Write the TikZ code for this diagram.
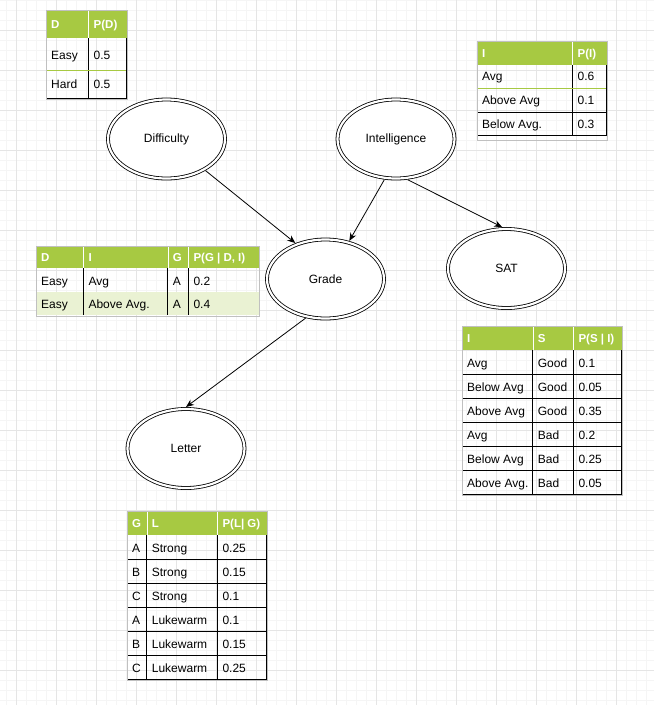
\documentclass[tikz,border=0pt]{standalone}
\usepackage{fontspec}
\setmainfont{Liberation Sans}
\usetikzlibrary{arrows.meta, shapes.geometric}

\definecolor{hgreen}{HTML}{A7C942}
\definecolor{rowgreen}{HTML}{EAF2D3}
\definecolor{framegray}{HTML}{C0C0C0}
\definecolor{gridmajor}{HTML}{E5E5E5}
\definecolor{gridminor}{HTML}{F5F5F5}

\begin{document}
\begin{tikzpicture}[
		x=1pt, y=-1pt,
		font=\fontsize{12}{14}\selectfont,
		rv/.style={draw, ellipse, double, double distance=2.2pt, line width=0.8pt, fill=white, minimum width=117pt, minimum height=79pt, inner sep=0pt, outer sep=2pt},
		arrow/.style={-{Stealth[length=8pt, width=6.5pt]}, line width=0.8pt},
		hdtext/.style={anchor=west, inner sep=0pt, text=white, font=\bfseries\fontsize{11.5}{13}\selectfont, text height=8pt, text depth=0pt},
		cell/.style={anchor=west, inner sep=0pt, text height=8pt, text depth=0pt},
		tabframe/.style={draw=framegray, line width=1pt},
		cellrule/.style={draw=black, line width=0.9pt},
		minorline/.style={draw=gridminor, line width=0.8pt},
		majorline/.style={draw=gridmajor, line width=0.9pt}
		]

		\useasboundingbox (0,0) rectangle (654,705);

		% Background grid
		\foreach \x in {6,16,...,654} \draw[minorline] (\x,0) -- (\x,705);
		\foreach \y in {0,10,...,700} \draw[minorline] (0,\y) -- (654,\y);
		\foreach \x in {16,56,...,654} \draw[majorline] (\x,0) -- (\x,705);
		\foreach \y in {30,70,...,700} \draw[majorline] (0,\y) -- (654,\y);

		% Table P(D)
		\fill[hgreen] (46,10) rectangle (127,38);
		\draw[white] (88.5,10) -- (88.5,38);
		\node[hdtext] (d-h1) at (51,24) {D};
		\node[hdtext] (d-h2) at (93.5,24) {P(D)};
		\draw[cellrule] (46,38) -- (46,98) -- (126,98) -- (126,38) (88.5,38) -- (88.5,98);
		\draw[hgreen, line width=0.9pt] (46,70.5) -- (126,70.5);
		\foreach \a/\b/\yy [count=\r] in {Easy/0.5/55.3, Hard/0.5/84.8} {
			\node[cell] (d-\r-1) at (51,\yy) {\a};
			\node[cell] (d-\r-2) at (93.5,\yy) {\b};
		}
		\draw[tabframe] (46,10) rectangle (127,99);

		% Table P(I)
		\fill[hgreen] (477,41) rectangle (607,64.5);
		\draw[white] (572.5,41) -- (572.5,64.5);
		\node[hdtext] (i-h1) at (482,53) {I};
		\node[hdtext] (i-h2) at (577.5,53) {P(I)};
		\draw[cellrule] (477,64.5) -- (477,135.5) -- (606,135.5) -- (606,64.5) (572.5,64.5) -- (572.5,135.5) (477,112) -- (606,112);
		\draw[hgreen, line width=0.9pt] (477,88.5) -- (606,88.5);
		\foreach \a/\b [count=\r] in {Avg/0.6, Above Avg/0.1, Below Avg./0.3} {
			\node[cell] (i-\r-1) at (482,{53.3+23.6*\r}) {\a};
			\node[cell] (i-\r-2) at (577.5,{53.3+23.6*\r}) {\b};
		}
		\draw[tabframe] (477,41) rectangle (607,140);

		% Table P(G | D, I)
		\fill[rowgreen] (36,292) rectangle (259,315);
		\fill[hgreen] (36,246) rectangle (259,268);
		\foreach \x in {83.3,167.7,188.3} {
			\draw[white] (\x,246) -- (\x,268);
			\draw[cellrule] (\x,268) -- (\x,315);
		}
		\node[hdtext] (g-h1) at (41,257) {D};
		\node[hdtext] (g-h2) at (88.3,257) {I};
		\node[hdtext] (g-h3) at (172.7,257) {G};
		\node[hdtext] (g-h4) at (193.3,257) {P(G | D, I)};
		\foreach \a/\b/\c/\p [count=\r] in {Easy/Avg/A/0.2, Easy/Above Avg./A/0.4} {
			\node[cell] (g-\r-1) at (41,{257.5+23.5*\r}) {\a};
			\node[cell] (g-\r-2) at (88.3,{257.5+23.5*\r}) {\b};
			\node[cell] (g-\r-3) at (172.7,{257.5+23.5*\r}) {\c};
			\node[cell] (g-\r-4) at (193.3,{257.5+23.5*\r}) {\p};
		}
		\draw[tabframe] (36,246) rectangle (259,316);

		% Table P(S | I)
		\fill[hgreen] (462,326) rectangle (622,350);
		\foreach \x in {532.7,573.3} \draw[white] (\x,326) -- (\x,350);
		\draw[cellrule] (462,350) -- (462,494) -- (621,494) -- (621,350) (532.7,350) -- (532.7,494) (573.3,350) -- (573.3,494);
		\foreach \y in {374,398,...,470} \draw[cellrule] (462,\y) -- (621,\y);
		\node[hdtext] (s-h1) at (467,338) {I};
		\node[hdtext] (s-h2) at (537.7,338) {S};
		\node[hdtext] (s-h3) at (578.3,338) {P(S | I)};
		\foreach \a/\b/\p [count=\r] in {Avg/Good/0.1, Below Avg/Good/0.05, Above Avg/Good/0.35, Avg/Bad/0.2, Below Avg/Bad/0.25, Above Avg./Bad/0.05} {
			\node[cell] (s-\r-1) at (467,{339+24*\r}) {\a};
			\node[cell] (s-\r-2) at (537.7,{339+24*\r}) {\b};
			\node[cell] (s-\r-3) at (578.3,{339+24*\r}) {\p};
		}
		\draw[tabframe] (462,326) rectangle (622,495);

		% Table P(L | G)
		\fill[hgreen] (127,511) rectangle (267,535);
		\foreach \x in {146.7,217.3} \draw[white] (\x,511) -- (\x,535);
		\draw[cellrule] (127,535) -- (127,679) -- (266,679) -- (266,535) (146.7,535) -- (146.7,679) (217.3,535) -- (217.3,679);
		\foreach \y in {559,583,...,655} \draw[cellrule] (127,\y) -- (266,\y);
		\node[hdtext] (l-h1) at (132,523) {G};
		\node[hdtext] (l-h2) at (151.7,523) {L};
		\node[hdtext] (l-h3) at (222.3,523) {P(L| G)};
		\foreach \g/\l/\p [count=\r] in {A/Strong/0.25, B/Strong/0.15, C/Strong/0.1, A/Lukewarm/0.1, B/Lukewarm/0.15, C/Lukewarm/0.25} {
			\node[cell] (l-\r-1) at (132,{524+24*\r}) {\g};
			\node[cell] (l-\r-2) at (151.7,{524+24*\r}) {\l};
			\node[cell] (l-\r-3) at (222.3,{524+24*\r}) {\p};
		}
		\draw[tabframe] (127,511) rectangle (267,680);

		% Nodes
		\node[rv] (diff) at (166.5,139) {Difficulty};
		\node[rv] (intel) at (396,139) {Intelligence};
		\node[rv] (grade) at (325.5,279) {Grade};
		\node[rv] (sat) at (506.5,268.5) {SAT};
		\node[rv] (letter) at (186,448.5) {Letter};

		% Arrows
		\draw[arrow] (diff.321) -- (grade.130);
		\draw[arrow] (intel.254) -- (grade.58);
		\draw[arrow] (intel.286) -- (sat.96);
		\draw[arrow] (grade.243) -- (letter.90);

	\end{tikzpicture}
\end{document}
